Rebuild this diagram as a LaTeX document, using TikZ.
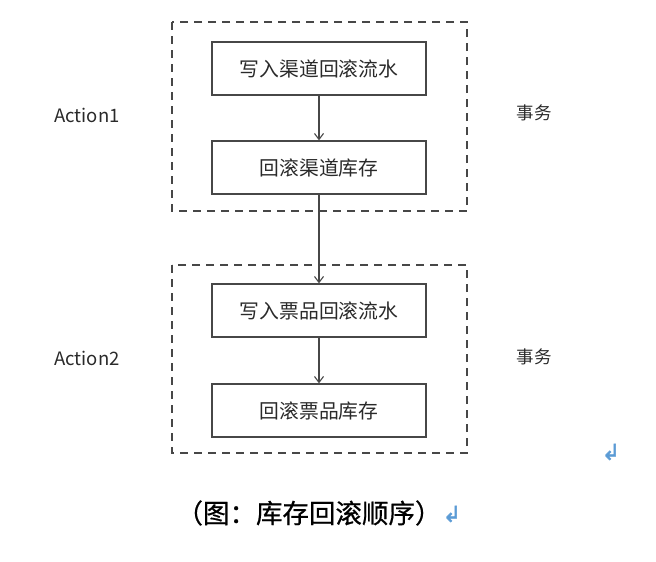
\documentclass[tikz,border=0pt]{standalone}
\usepackage{fontspec}
\setmainfont{Noto Sans CJK SC}
\newfontfamily\symfont[FakeBold=2]{DejaVu Sans}
\newfontfamily\capfont[FakeBold=0.6]{Noto Sans CJK SC}
\usetikzlibrary{arrows.meta}
\definecolor{linec}{HTML}{474747}
\definecolor{textc}{HTML}{2A2A2A}
\definecolor{retc}{HTML}{5B9BD5}
\tikzset{
  stepbox/.style={draw=linec, line width=1.3pt, minimum width=214pt, minimum height=53pt, inner sep=0pt, text=textc, font=\fontsize{19.8}{22}\selectfont},
  groupbox/.style={draw=linec, line width=1.5pt, dash pattern=on 8pt off 6pt},
  flow/.style={draw=linec, line width=1.1pt, -{Straight Barb[length=6pt,width=9pt]}},
  sidelabel/.style={text=textc, font=\fontsize{18.5}{20}\selectfont, inner sep=0pt},
  txlabel/.style={text=textc, font=\fontsize{17.5}{20}\selectfont, inner sep=0pt},
  retmark/.style={text=retc, font=\symfont\fontsize{22}{24}\selectfont, inner sep=0pt},
}
\begin{document}
\begin{tikzpicture}[x=1pt,y=-1pt]
\useasboundingbox (0,0) rectangle (656,562);
\draw[groupbox] (172,22) rectangle (467,211);
\draw[groupbox] (172,265) rectangle (467,453);
\node[stepbox] (a) at (319,68.5) {写入渠道回滚流水};
\node[stepbox] (b) at (319,167.5) {回滚渠道库存};
\node[stepbox] (c) at (319,310.5) {写入票品回滚流水};
\node[stepbox] (d) at (319,410.5) {回滚票品库存};
\draw[flow] (a) -- (b);
\draw[flow] (b) -- (c);
\draw[flow] (c) -- (d);
\node[sidelabel] (act1) at (87,115) {Action1};
\node[sidelabel] (act2) at (87,358) {Action2};
\node[txlabel] (tx1) at (534,113) {事务};
\node[txlabel] (tx2) at (534,357) {事务};
\node[text=black, font=\capfont\fontsize{26.5}{28}\selectfont, inner sep=0pt] (cap) at (309,513) {（图：库存回滚顺序）};
\node[retmark] (r1) at (452,514) {↲};
\node[retmark] (r2) at (611,452) {↲};
\end{tikzpicture}
\end{document}
